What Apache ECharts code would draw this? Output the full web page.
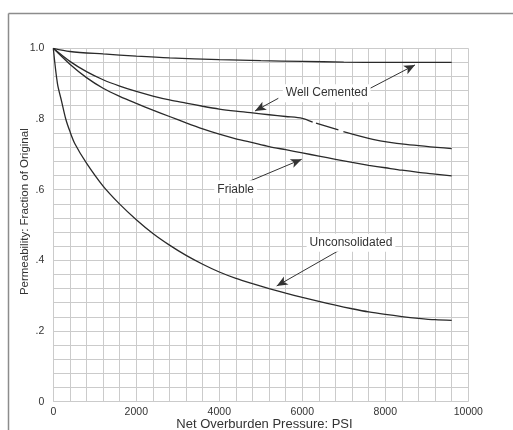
<!DOCTYPE html>
<html>
<head>
<meta charset="utf-8">
<script src="https://cdn.jsdelivr.net/npm/echarts@6/dist/echarts.min.js"></script>
<style>
html,body{margin:0;padding:0;background:#fff;}
#chart{width:513px;height:430px;}
</style>
</head>
<body>
<div id="chart"></div>
<script>
// Pressure (psi) and permeability fraction values
var wellCementedTop = [[0,1.0],[400,0.991],[1200,0.984],[2000,0.978],[2800,0.973],[4000,0.968],[5000,0.965],[6000,0.963],[7000,0.961],[8000,0.960],[9600,0.960]];
var wellCementedLow = [[0,1.0],[400,0.963],[800,0.934],[1200,0.911],[1600,0.893],[2000,0.878],[2400,0.865],[2800,0.854],[3200,0.845],[3600,0.836],[4000,0.828],[4400,0.822],[4800,0.817],[5200,0.812],[5600,0.807],[6000,0.802],[6250,0.791],[6290,null],[6330,0.788],[6870,0.769],[6930,null],[6990,0.764],[7700,0.7425],[8500,0.728],[9600,0.716]];
var friable = [[0,1.0],[400,0.955],[800,0.917],[1200,0.887],[1600,0.864],[2000,0.844],[2400,0.825],[2800,0.807],[3200,0.789],[3600,0.772],[4000,0.757],[4400,0.744],[4800,0.733],[5200,0.722],[5600,0.713],[6000,0.704],[6400,0.695],[6800,0.686],[7200,0.677],[7600,0.669],[8000,0.662],[8400,0.655],[8800,0.649],[9200,0.644],[9600,0.639]];
var unconsolidated = [[0,1.0],[100,0.90],[200,0.85],[300,0.80],[400,0.765],[520,0.73],[800,0.675],[1200,0.610],[1600,0.559],[2000,0.515],[2400,0.476],[2800,0.443],[3200,0.414],[3600,0.389],[4000,0.367],[4400,0.349],[4800,0.334],[5200,0.320],[5600,0.307],[6000,0.295],[6400,0.284],[6800,0.273],[7200,0.263],[7600,0.254],[8000,0.247],[8400,0.241],[8800,0.236],[9200,0.232],[9600,0.230]];

var xTickLabels = ['0','2000','4000','6000','8000','10000'];
var yTickLabels = {0:'0',20:'.2',40:'.4',60:'.6',80:'.8',100:'1.0'};

// Annotations (data coordinates)
var notes = [
  {text:'Well Cemented', at:[6588,0.873]},
  {text:'Friable', at:[4395,0.601]},
  {text:'Unconsolidated', at:[7173,0.450]}
];
var arrows = [
  [[7590,0.884],[8716,0.953]],
  [[5422,0.8585],[4860,0.8226]],
  [[4699,0.6225],[5986,0.686]],
  [[6908,0.4296],[5383,0.3274]]
];

var FONT = '"Liberation Sans", Arial, sans-serif';
var chart = echarts.init(document.getElementById('chart'));

function curve(name, data, extra){
  var s = {
    name: name, type:'line', data: data, showSymbol:false, symbol:'none',
    smooth:0.3, connectNulls:false,
    lineStyle:{color:'#2a2a2a', width:1.3}, silent:true, z:3
  };
  if (extra) for (var k in extra) s[k] = extra[k];
  return s;
}

chart.setOption({
  animation:false,
  backgroundColor:'#fff',
  grid:{left:53.3, right:44.7, top:48.3, bottom:28.3, containLabel:false},
  xAxis:{
    type:'value', min:0, max:10000, interval:400,
    axisLine:{show:false}, axisTick:{show:false},
    splitLine:{show:true, lineStyle:{color:'#cbcbcb', width:1}},
    axisLabel:{
      margin:5, color:'#333', fontFamily:FONT, fontSize:10.5,
      formatter:function(v){ return (Math.round(v) % 2000 === 0) ? xTickLabels[Math.round(v)/2000] : ''; }
    }
  },
  yAxis:{
    type:'value', min:0, max:1, interval:0.04,
    axisLine:{show:false}, axisTick:{show:false},
    splitLine:{show:true, lineStyle:{color:'#cbcbcb', width:1}},
    axisLabel:{
      margin:9, color:'#333', fontFamily:FONT, fontSize:10.5,
      formatter:function(v){ var k = Math.round(v*100); return yTickLabels.hasOwnProperty(k) ? yTickLabels[k] : ''; }
    }
  },
  graphic:[
    {type:'line', shape:{x1:8.5,y1:13.5,x2:513,y2:13.5}, style:{stroke:'#8c8c8c', lineWidth:1.5}},
    {type:'line', shape:{x1:8.5,y1:13.5,x2:8.5,y2:430}, style:{stroke:'#8c8c8c', lineWidth:1.5}},
    {type:'text', x:25, y:211.7, rotation:Math.PI/2,
     style:{text:'Permeability: Fraction of Original', fill:'#333', font:'11.5px ' + FONT, textAlign:'center', textVerticalAlign:'middle'}},
    {type:'text', x:264.5, y:424.3,
     style:{text:'Net Overburden Pressure: PSI', fill:'#333', font:'13px ' + FONT, textAlign:'center', textVerticalAlign:'middle'}}
  ],
  series:[
    curve('Well Cemented (upper)', wellCementedTop, {
      markLine:{
        silent:true, symbol:['none','arrow'], symbolSize:[7,11],
        lineStyle:{color:'#333', type:'solid', width:1},
        label:{show:false},
        data: arrows.map(function(a){ return [{coord:a[0]},{coord:a[1]}]; })
      },
      markPoint:{
        silent:true, symbol:'rect', symbolSize:0,
        label:{show:true, position:'inside', color:'#333', fontFamily:FONT, fontSize:12,
               backgroundColor:'#fff', padding:[3,3,3,3],
               formatter:function(p){ return p.name; }},
        data: notes.map(function(n){ return {name:n.text, coord:n.at}; })
      }
    }),
    curve('Well Cemented (lower)', wellCementedLow),
    curve('Friable', friable),
    curve('Unconsolidated', unconsolidated)
  ]
});
</script>
</body>
</html>
